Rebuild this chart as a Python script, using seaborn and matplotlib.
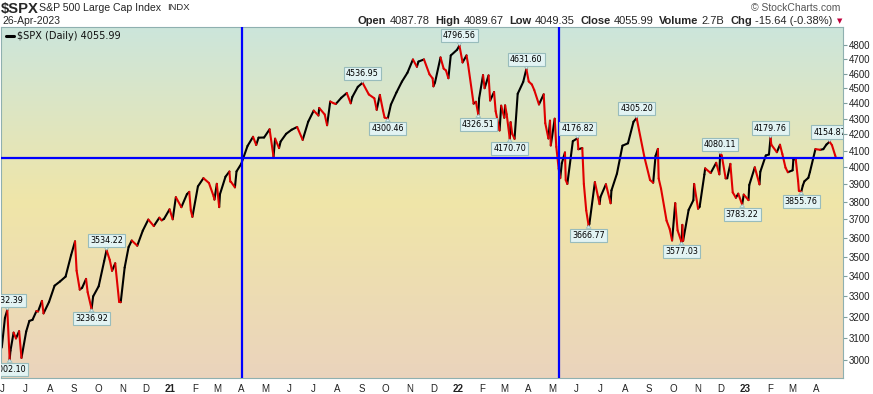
import numpy as np
import pandas as pd
import matplotlib
matplotlib.use('Agg')
import matplotlib.pyplot as plt
from matplotlib.ticker import FixedLocator, FixedFormatter, NullLocator
import seaborn as sns

sns.set_style('white')
plt.rcParams['font.family'] = ['Liberation Sans', 'DejaVu Sans']

# S&P 500 closes (sampled), Jun 2020 - Apr 2023
dates = [
    '2020-06-01', '2020-06-05', '2020-06-08', '2020-06-11', '2020-06-12', '2020-06-16', '2020-06-19', '2020-06-23',
    '2020-06-26', '2020-07-02', '2020-07-06', '2020-07-10', '2020-07-15', '2020-07-17', '2020-07-22', '2020-07-24',
    '2020-07-31', '2020-08-07', '2020-08-14', '2020-08-21', '2020-08-28', '2020-09-02', '2020-09-04', '2020-09-08',
    '2020-09-11', '2020-09-16', '2020-09-18', '2020-09-23', '2020-09-25', '2020-10-02', '2020-10-09', '2020-10-12',
    '2020-10-16', '2020-10-19', '2020-10-23', '2020-10-28', '2020-10-30', '2020-11-04', '2020-11-09', '2020-11-13',
    '2020-11-20', '2020-11-27', '2020-12-04', '2020-12-11', '2020-12-18', '2020-12-21', '2020-12-24', '2020-12-31',
    '2021-01-04', '2021-01-08', '2021-01-15', '2021-01-22', '2021-01-25', '2021-01-27', '2021-01-29', '2021-02-05',
    '2021-02-12', '2021-02-19', '2021-02-25', '2021-02-26', '2021-03-01', '2021-03-04', '2021-03-05', '2021-03-12',
    '2021-03-17', '2021-03-18', '2021-03-19', '2021-03-24', '2021-03-26', '2021-04-01', '2021-04-09', '2021-04-16',
    '2021-04-20', '2021-04-23', '2021-04-30', '2021-05-07', '2021-05-12', '2021-05-14', '2021-05-19', '2021-05-21',
    '2021-05-28', '2021-06-04', '2021-06-11', '2021-06-18', '2021-06-25', '2021-07-02', '2021-07-08', '2021-07-09',
    '2021-07-16', '2021-07-19', '2021-07-23', '2021-07-27', '2021-07-30', '2021-08-06', '2021-08-13', '2021-08-18',
    '2021-08-20', '2021-08-27', '2021-09-02', '2021-09-10', '2021-09-17', '2021-09-20', '2021-09-24', '2021-09-28',
    '2021-09-30', '2021-10-04', '2021-10-08', '2021-10-15', '2021-10-22', '2021-10-29', '2021-11-05', '2021-11-10',
    '2021-11-12', '2021-11-19', '2021-11-26', '2021-11-30', '2021-12-01', '2021-12-03', '2021-12-10', '2021-12-14',
    '2021-12-17', '2021-12-20', '2021-12-23', '2021-12-31',
    '2022-01-03', '2022-01-07', '2022-01-12', '2022-01-14', '2022-01-21', '2022-01-24', '2022-01-27', '2022-01-28',
    '2022-02-02', '2022-02-04', '2022-02-09', '2022-02-11', '2022-02-16', '2022-02-18', '2022-02-23', '2022-02-25',
    '2022-03-01', '2022-03-02', '2022-03-04', '2022-03-08', '2022-03-09', '2022-03-11', '2022-03-14', '2022-03-18',
    '2022-03-25', '2022-03-29', '2022-04-01', '2022-04-05', '2022-04-08', '2022-04-14', '2022-04-20', '2022-04-22',
    '2022-04-26', '2022-04-28', '2022-04-29', '2022-05-04', '2022-05-06', '2022-05-09', '2022-05-11', '2022-05-13',
    '2022-05-17', '2022-05-18', '2022-05-20', '2022-05-27', '2022-06-02', '2022-06-03', '2022-06-08', '2022-06-10',
    '2022-06-13', '2022-06-16', '2022-06-17', '2022-06-24', '2022-06-30', '2022-07-01', '2022-07-08', '2022-07-14',
    '2022-07-15', '2022-07-22', '2022-07-29', '2022-08-05', '2022-08-12', '2022-08-16', '2022-08-19', '2022-08-26',
    '2022-09-02', '2022-09-06', '2022-09-09', '2022-09-12', '2022-09-13', '2022-09-16', '2022-09-23', '2022-09-27',
    '2022-09-30', '2022-10-04', '2022-10-07', '2022-10-12', '2022-10-13', '2022-10-14', '2022-10-21', '2022-10-27',
    '2022-10-28', '2022-11-02', '2022-11-04', '2022-11-10', '2022-11-11', '2022-11-18', '2022-11-25', '2022-11-29',
    '2022-11-30', '2022-12-02', '2022-12-07', '2022-12-09', '2022-12-13', '2022-12-16', '2022-12-20', '2022-12-23',
    '2022-12-28', '2022-12-30',
    '2023-01-05', '2023-01-06', '2023-01-13', '2023-01-19', '2023-01-20', '2023-01-27', '2023-01-31', '2023-02-02',
    '2023-02-03', '2023-02-10', '2023-02-14', '2023-02-17', '2023-02-21', '2023-02-24', '2023-03-02', '2023-03-03',
    '2023-03-06', '2023-03-09', '2023-03-10', '2023-03-13', '2023-03-15', '2023-03-17', '2023-03-22', '2023-03-24',
    '2023-03-31', '2023-04-06', '2023-04-10', '2023-04-14', '2023-04-18', '2023-04-21', '2023-04-25', '2023-04-26',
]
closes = [
    3055.73, 3193.93, 3232.39, 3002.10, 3041.31, 3124.74, 3097.74, 3131.29,
    3009.05, 3130.01, 3179.72, 3185.04, 3226.56, 3224.73, 3276.02, 3215.63,
    3271.12, 3351.28, 3372.85, 3397.16, 3508.01, 3580.84, 3426.96, 3331.84,
    3340.97, 3385.49, 3319.47, 3236.92, 3298.46, 3348.44, 3477.13, 3534.22,
    3483.81, 3426.92, 3465.39, 3271.03, 3269.96, 3443.44, 3550.50, 3585.15,
    3557.54, 3638.35, 3699.12, 3663.46, 3709.41, 3694.92, 3703.06, 3756.07,
    3700.65, 3824.68, 3768.25, 3841.47, 3855.36, 3750.77, 3714.24, 3886.83,
    3934.83, 3906.71, 3829.34, 3811.15, 3901.82, 3768.47, 3841.94, 3943.34,
    3974.12, 3915.46, 3913.10, 3881.37, 3974.54, 4019.87, 4128.80, 4185.47,
    4134.94, 4180.17, 4181.17, 4232.60, 4063.04, 4173.85, 4115.68, 4155.86,
    4204.11, 4229.89, 4247.44, 4166.45, 4280.70, 4352.34, 4320.82, 4369.55,
    4327.16, 4258.49, 4411.79, 4401.46, 4395.26, 4436.52, 4468.00, 4400.27,
    4441.67, 4509.37, 4536.95, 4458.58, 4432.99, 4357.73, 4455.48, 4352.63,
    4307.54, 4300.46, 4391.34, 4471.37, 4544.90, 4605.38, 4697.53, 4646.71,
    4682.85, 4697.96, 4594.62, 4567.00, 4513.04, 4538.43, 4712.02, 4634.09,
    4620.64, 4568.02, 4725.79, 4766.18,
    4796.56, 4677.03, 4726.35, 4662.85, 4397.94, 4410.13, 4326.51, 4431.85,
    4589.38, 4500.53, 4587.18, 4418.64, 4475.01, 4348.87, 4225.50, 4384.65,
    4306.26, 4386.54, 4328.87, 4170.70, 4277.88, 4204.31, 4173.11, 4463.12,
    4543.06, 4631.60, 4545.86, 4525.12, 4488.28, 4392.59, 4459.45, 4271.78,
    4175.20, 4287.50, 4131.93, 4300.17, 4123.34, 3991.24, 3935.18, 4023.89,
    4088.85, 3923.68, 3901.36, 4158.24, 4176.82, 4108.54, 4115.77, 3900.86,
    3749.63, 3666.77, 3674.84, 3911.74, 3785.38, 3825.33, 3899.38, 3790.38,
    3863.16, 3961.63, 4130.29, 4145.19, 4280.15, 4305.20, 4228.48, 4057.66,
    3924.26, 3908.19, 4067.36, 4110.41, 3932.69, 3873.33, 3693.23, 3647.29,
    3585.62, 3790.93, 3639.66, 3577.03, 3669.91, 3583.07, 3752.75, 3807.30,
    3901.06, 3759.69, 3770.55, 3956.37, 3992.93, 3965.34, 4026.12, 3957.63,
    4080.11, 4071.70, 3933.92, 3934.38, 4019.65, 3852.36, 3821.62, 3844.82,
    3783.22, 3839.50,
    3808.10, 3895.08, 3999.09, 3898.85, 3972.61, 4070.56, 4076.60, 4179.76,
    4136.48, 4090.46, 4136.13, 4079.09, 3997.34, 3970.04, 3981.35, 4045.64,
    4048.42, 3918.32, 3861.59, 3855.76, 3891.93, 3916.64, 3936.97, 3970.99,
    4109.31, 4105.02, 4109.11, 4137.64, 4154.87, 4133.52, 4071.63, 4055.99,
]

# labelled highs and lows
label_dates = ['2020-06-08', '2020-06-11', '2020-10-12', '2020-09-23', '2021-09-02', '2021-10-04',
               '2022-01-03', '2022-01-27', '2022-03-08', '2022-03-29', '2022-06-02', '2022-06-16',
               '2022-08-16', '2022-10-12', '2022-11-30', '2022-12-28', '2023-02-02', '2023-03-13',
               '2023-04-18']
label_values = [3232.39, 3002.10, 3534.22, 3236.92, 4536.95, 4300.46,
                4796.56, 4326.51, 4170.70, 4631.60, 4176.82, 3666.77,
                4305.20, 3577.03, 4080.11, 3783.22, 4179.76, 3855.76,
                4154.87]
label_kind = ['high', 'low', 'high', 'low', 'high', 'low',
              'high', 'low', 'low', 'high', 'high', 'low',
              'high', 'low', 'high', 'low', 'high', 'low',
              'high']

vline_dates = ['2021-04-02', '2022-05-10']
hline_value = 4055.99

df = pd.DataFrame({'date': pd.to_datetime(dates), 'close': closes})

# split into 2-point segments, red when the close fell
rows = []
for i in range(1, len(df)):
    d = 'down' if df.close[i] < df.close[i - 1] else 'up'
    rows.append((i, df.date[i - 1], df.close[i - 1], d))
    rows.append((i, df.date[i], df.close[i], d))
seg = pd.DataFrame(rows, columns=['seg', 'date', 'close', 'dir'])

W, H = 873, 394
fig = plt.figure(figsize=(W / 100, H / 100), dpi=100)
pos = [1 / W, 16 / H, 842 / W, 351 / H]

# gradient background
bg = fig.add_axes(pos, zorder=0)
stops = np.array([[0.80, 0.90, 0.86], [0.94, 0.90, 0.66], [0.92, 0.83, 0.74]])
t = np.linspace(0, 1, 256)
grad = np.stack([np.interp(t, [0, 0.5, 1], stops[:, k]) for k in range(3)], axis=1)[:, None, :]
bg.imshow(grad, aspect='auto', extent=[0, 1, 0, 1])
bg.axis('off')

ax = fig.add_axes(pos, zorder=1)
ax.patch.set_alpha(0)

sns.lineplot(data=seg, x='date', y='close', units='seg', estimator=None, hue='dir',
             palette={'up': 'black', 'down': '#e00000'}, lw=1.5, legend=False, sort=False, ax=ax)

ax.axhline(hline_value, color='#0000ff', lw=1.6, zorder=3)
for d in vline_dates:
    ax.axvline(pd.Timestamp(d), color='#0000ff', lw=1.6, zorder=3)

ax.set_yscale('log')
ax.set_ylim(2920, 4931)
ax.set_xlim(pd.Timestamp('2020-05-31'), pd.Timestamp('2023-05-05'))

yt = list(range(3000, 4900, 100))
ax.yaxis.tick_right()
ax.yaxis.set_major_locator(FixedLocator(yt))
ax.yaxis.set_major_formatter(FixedFormatter([str(v) for v in yt]))
ax.yaxis.set_minor_locator(NullLocator())

months = pd.date_range('2020-06-01', '2023-04-01', freq='MS')
mlabels = [m.strftime('%y') if m.month == 1 else m.strftime('%b')[0] for m in months]
ax.set_xticks(months)
ax.set_xticklabels(mlabels)
for lab in ax.get_xticklabels():
    if lab.get_text().isdigit():
        lab.set_fontweight('bold')
        lab.set_fontsize(8)

ax.tick_params(axis='both', which='major', labelsize=7, length=3, width=0.8,
               color='#7f9f9f', labelcolor='#222222', pad=1)
ax.set_xlabel('')
ax.set_ylabel('')
for s in ax.spines.values():
    s.set_color('#8fb0b0')
    s.set_linewidth(0.8)

box_fc = '#e2f3f3'
box_ec = '#98bcbc'
for d, v, k in zip(label_dates, label_values, label_kind):
    off = 7 if k == 'high' else -7
    ax.annotate(f'{v:.2f}', xy=(pd.Timestamp(d), v), xytext=(0, off), textcoords='offset points',
                ha='center', va='center', fontsize=5.8, family='DejaVu Sans', color='black',
                bbox=dict(boxstyle='square,pad=0.25', fc=box_fc, ec=box_ec, lw=0.8),
                arrowprops=dict(arrowstyle='wedge,tail_width=0.6', fc=box_fc, ec=box_ec, lw=0.6,
                                shrinkA=0, shrinkB=0),
                clip_on=True, zorder=5)

# legend entry
ax.plot([0.006, 0.015], [0.975, 0.975], transform=ax.transAxes, color='black', lw=2.2)
ax.text(0.019, 0.975, r'\$SPX (Daily) 4055.99', transform=ax.transAxes, ha='left', va='center',
        fontsize=7, family='DejaVu Sans', color='#111111')

# header
fig.text(1 / W, 1 - 9 / H, r'\$SPX', fontsize=10.6, fontweight='bold', ha='left', va='center')
fig.text(39 / W, 1 - 8 / H, 'S&P 500 Large Cap Index', fontsize=7.6, ha='left', va='center')
fig.text(167 / W, 1 - 8 / H, 'INDX', fontsize=6.8, ha='left', va='center')
fig.text(2 / W, 1 - 21 / H, '26-Apr-2023', fontsize=7.5, ha='left', va='center')
fig.text(840 / W, 1 - 8 / H, '\u00a9 StockCharts.com', fontsize=7.5, color='#555555', ha='right', va='center')

pieces = [('Open', 'bold'), ('4087.78', 'normal'), ('High', 'bold'), ('4089.67', 'normal'),
          ('Low', 'bold'), ('4049.35', 'normal'), ('Close', 'bold'), ('4055.99', 'normal'),
          ('Volume', 'bold'), ('2.7B', 'normal'), ('Chg', 'bold'), ('-15.64 (-0.38%)', 'normal')]
renderer = fig.canvas.get_renderer()
x = 358
for txt, wt in pieces:
    t_ = fig.text(x / W, 1 - 21 / H, txt, fontsize=8, fontweight=wt, ha='left', va='center')
    w = t_.get_window_extent(renderer).width
    x += w + (3 if wt == 'bold' else 6)
fig.text((x - 2) / W, 1 - 21 / H, '\u25bc', fontsize=5, color='#c0003c', ha='left', va='center',
         family='DejaVu Sans')

fig.savefig('out.png', dpi=100)
